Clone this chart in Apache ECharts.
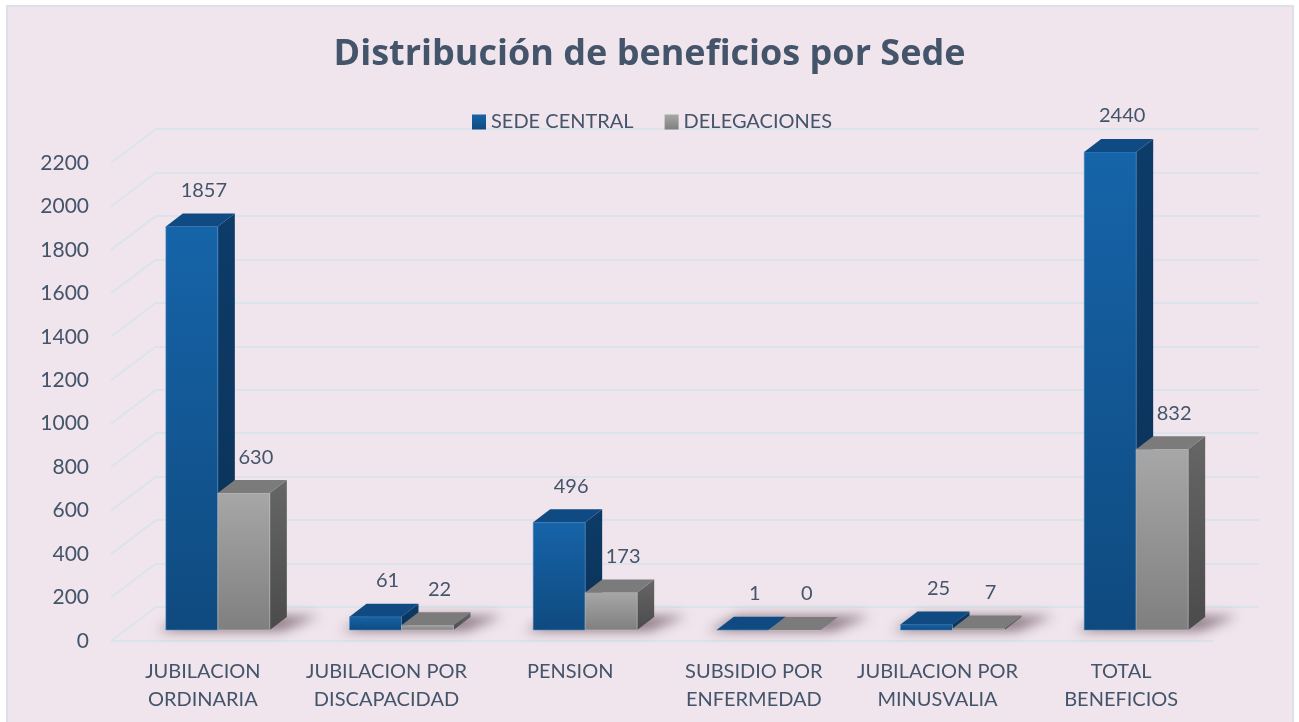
<!DOCTYPE html>
<html>
<head>
<meta charset="utf-8">
<script src="https://cdn.jsdelivr.net/npm/echarts@6/dist/echarts.min.js"></script>
<style>
  html, body { margin: 0; padding: 0; background: #ffffff; }
  #card {
    position: absolute; left: 6px; top: 5px; width: 1284px; height: 720px;
    background: #f0e5ec; border: 2px solid #dae1e8; border-bottom: none;
  }
  #chart { position: absolute; left: 0; top: 0; width: 1299px; height: 722px; }
</style>
</head>
<body>
<div id="card"></div>
<div id="chart"></div>
<script>
// datos del grafico
const categorias = [
  'JUBILACION\nORDINARIA',
  'JUBILACION POR\nDISCAPACIDAD',
  'PENSION',
  'SUBSIDIO POR\nENFERMEDAD',
  'JUBILACION POR\nMINUSVALIA',
  'TOTAL\nBENEFICIOS'
];
const sedeCentral = [1857, 61, 496, 1, 25, 2440];
const delegaciones = [630, 22, 173, 0, 7, 832];
const yTicks = [0, 200, 400, 600, 800, 1000, 1200, 1400, 1600, 1800, 2000, 2200];

const Y_MAX = 2200;
const TEXT = '#44546a';
const FONT = 'Lato, "Open Sans", sans-serif';

// geometria de las cajas 3D
const BAR_W = 52;
const DX = 17;
const DY = -13;
const SHIFT = 15;

const grad = (a, b) => new echarts.graphic.LinearGradient(0, 0, 0, 1, [
  { offset: 0, color: a }, { offset: 1, color: b }
]);

const azul = {
  front: ['#1664a9', '#0f4a7f'],
  top: '#0f4b82',
  side: ['#0d3c69', '#0a3156'],
  stroke: 'rgba(90,150,210,0.5)'
};
const gris = {
  front: ['#a7a7a7', '#7f7f7f'],
  top: '#7b7b7b',
  side: ['#666666', '#4b4b4b'],
  stroke: 'rgba(200,200,200,0.5)'
};

function renderBar(lado, c) {
  return function (params, api) {
    const i = api.value(0);
    const v = api.value(1);
    const base = api.coord([i, 0]);
    const top = api.coord([i, Math.min(v, Y_MAX)]);
    const x0 = base[0] + SHIFT + (lado === 'izq' ? -BAR_W : 0);
    const x1 = x0 + BAR_W;
    const yb = base[1];
    const yt = top[1];
    return {
      type: 'group',
      children: [
        {
          type: 'polygon',
          shape: { points: [[x1, yt], [x1 + DX, yt + DY], [x1 + DX, yb + DY], [x1, yb]] },
          style: { fill: grad(c.side[0], c.side[1]) }
        },
        {
          type: 'rect',
          shape: { x: x0, y: yt, width: BAR_W, height: yb - yt },
          style: { fill: grad(c.front[0], c.front[1]), stroke: c.stroke, lineWidth: 1 }
        },
        {
          type: 'polygon',
          shape: { points: [[x0, yt], [x1, yt], [x1 + DX, yt + DY], [x0 + DX, yt + DY]] },
          style: { fill: c.top }
        },
        {
          type: 'text',
          x: (x0 + x1) / 2 + 12,
          y: yt + DY - 23,
          style: {
            text: String(v), fill: TEXT, font: '20px ' + FONT,
            align: 'center', verticalAlign: 'middle'
          }
        }
      ]
    };
  };
}

// sombra difusa en el piso
function renderSombra(params, api) {
  const i = api.value(0);
  const base = api.coord([i, 0]);
  const xl = base[0] + SHIFT - BAR_W;
  const xr = base[0] + SHIFT + BAR_W;
  const yb = base[1];
  const off = 3000;
  const pts = [
    [xl - 8, yb + 1], [xr + 12, yb + 1],
    [xr + DX + 32, yb + DY - 1], [xl + DX + 4, yb + DY - 1]
  ].map(p => [p[0] - off, p[1]]);
  return {
    type: 'polygon',
    shape: { points: pts },
    style: {
      fill: '#000', shadowBlur: 12, shadowOffsetX: off,
      shadowColor: 'rgba(60,35,50,0.55)'
    }
  };
}

// lineas diagonales del piso/pared lateral
function renderDiagonal(params, api) {
  const cs = params.coordSys;
  const v = api.value(1);
  const p = api.coord([0, v]);
  const yf = p[1] + 11;
  const children = [{
    type: 'line',
    shape: { x1: cs.x, y1: yf, x2: cs.x + 45, y2: yf - 34 },
    style: { stroke: '#dce3eb', lineWidth: 2 }
  }];
  if (v === 0) {
    children.push({
      type: 'line',
      shape: { x1: cs.x, y1: yf, x2: cs.x + cs.width, y2: yf },
      style: { stroke: '#dce3eb', lineWidth: 2 }
    });
  }
  return { type: 'group', children };
}

const chart = echarts.init(document.getElementById('chart'));

const option = {
  backgroundColor: 'transparent',
  animation: false,
  title: {
    text: 'Distribución de beneficios por Sede',
    left: 'center',
    top: 32,
    textStyle: { color: TEXT, fontSize: 36, fontWeight: 'bold', fontFamily: '"Open Sans", Lato, sans-serif' }
  },
  legend: {
    left: 472,
    top: 112,
    padding: 0,
    itemGap: 31,
    itemWidth: 14,
    itemHeight: 15,
    textStyle: { color: TEXT, fontSize: 20, fontFamily: FONT },
    data: [
      { name: 'SEDE CENTRAL', icon: 'rect', itemStyle: { color: grad('#1664a9', '#0f4a7f') } },
      { name: 'DELEGACIONES', icon: 'rect', itemStyle: { color: grad('#a7a7a7', '#7f7f7f') } }
    ]
  },
  grid: [
    { left: 111, right: 86, top: 152, bottom: 92 },
    { left: 156, right: 40, top: 129, bottom: 115 },
    { left: 111, right: 86, top: 163, bottom: 81 }
  ],
  xAxis: [
    {
      gridIndex: 0,
      type: 'category',
      data: categorias,
      axisLine: { show: false },
      axisTick: { show: false },
      axisLabel: {
        interval: 0, margin: 28, color: TEXT, fontSize: 20,
        lineHeight: 28, fontFamily: FONT
      }
    },
    { gridIndex: 1, type: 'value', show: false },
    { gridIndex: 2, type: 'value', show: false }
  ],
  yAxis: [
    { gridIndex: 0, type: 'value', min: 0, max: Y_MAX, interval: 200, show: false },
    {
      gridIndex: 1, type: 'value', min: 0, max: Y_MAX, interval: 200,
      axisLine: { show: false }, axisTick: { show: false }, axisLabel: { show: false },
      splitLine: { lineStyle: { color: '#dce3eb', width: 2 } }
    },
    {
      gridIndex: 2, type: 'value', min: 0, max: Y_MAX, interval: 200,
      axisLine: { show: false }, axisTick: { show: false },
      splitLine: { show: false },
      axisLabel: {
        margin: 22, color: TEXT, fontSize: 21, fontFamily: FONT,
        formatter: v => String(v)
      }
    }
  ],
  series: [
    {
      type: 'custom',
      xAxisIndex: 0, yAxisIndex: 0,
      clip: false,
      silent: true,
      z: 1,
      renderItem: renderDiagonal,
      data: yTicks.map(v => [0, v])
    },
    {
      type: 'custom',
      xAxisIndex: 0, yAxisIndex: 0,
      clip: false,
      silent: true,
      z: 2,
      renderItem: renderSombra,
      data: sedeCentral.map((v, i) => [i, v])
    },
    {
      name: 'SEDE CENTRAL',
      type: 'custom',
      xAxisIndex: 0, yAxisIndex: 0,
      clip: false,
      z: 3,
      itemStyle: { color: '#1664a9' },
      renderItem: renderBar('izq', azul),
      data: sedeCentral.map((v, i) => [i, v])
    },
    {
      name: 'DELEGACIONES',
      type: 'custom',
      xAxisIndex: 0, yAxisIndex: 0,
      clip: false,
      z: 4,
      itemStyle: { color: '#a7a7a7' },
      renderItem: renderBar('der', gris),
      data: delegaciones.map((v, i) => [i, v])
    }
  ]
};

chart.setOption(option);
</script>
</body>
</html>
